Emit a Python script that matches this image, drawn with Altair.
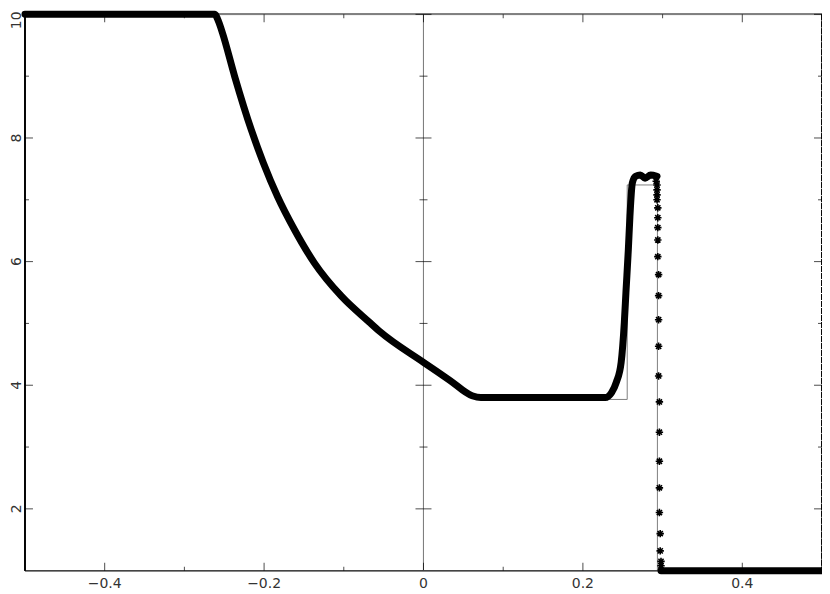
import altair as alt
import pandas as pd

# ---------------- data ----------------
# numerical solution (dense part, left of the shock)
num_x = [-0.500, -0.262, -0.257, -0.252, -0.237, -0.216, -0.201, -0.183, -0.162,
         -0.137, -0.103, -0.068, -0.055, 0.000, 0.033, 0.061, 0.072, 0.150,
         0.228, 0.236, 0.242, 0.248, 0.252, 0.254, 0.257, 0.259, 0.262, 0.266,
         0.272, 0.278, 0.285, 0.293]
num_y = [10.00, 10.00, 9.88, 9.69, 9.00, 8.13, 7.60, 7.05, 6.52,
         5.98, 5.44, 5.02, 4.87, 4.37, 4.08, 3.83, 3.80, 3.80,
         3.80, 3.88, 4.05, 4.37, 5.02, 5.50, 6.19, 6.73, 7.27, 7.38,
         7.40, 7.35, 7.40, 7.38]
# numerical solution, right state
numr_x = [0.298, 0.500]
numr_y = [1.00, 1.00]
# numerical points inside the shock (sparse asterisks)
shock_x = [0.292, 0.293, 0.293, 0.293, 0.293, 0.294, 0.294, 0.294, 0.294, 0.294,
           0.295, 0.295, 0.295, 0.295, 0.295, 0.296, 0.296, 0.296, 0.296, 0.296,
           0.297, 0.297, 0.298, 0.298]
shock_y = [7.30, 7.24, 7.16, 7.08, 7.00, 6.87, 6.71, 6.55, 6.35, 6.08,
           5.79, 5.45, 5.06, 4.63, 4.15, 3.73, 3.24, 2.77, 2.34, 1.94,
           1.60, 1.32, 1.15, 1.08]
# exact solution (thin grey line)
ex_x = [-0.500, -0.262, -0.252, -0.237, -0.216, -0.183, -0.137, -0.068, 0.000,
        0.061, 0.066, 0.2556, 0.2556, 0.2935, 0.2935, 0.500]
ex_y = [10.00, 10.00, 9.69, 9.00, 8.13, 7.05, 5.98, 5.02, 4.37,
        3.82, 3.77, 3.77, 7.24, 7.24, 1.00, 1.00]

x_domain = [-0.5, 0.5]
y_domain = [1, 10]
x_labels = [-0.4, -0.2, 0, 0.2, 0.4]
x_minor = [-0.3, -0.1, 0.1, 0.3]
y_labels = [2, 4, 6, 8]
y_top_label = [10]
y_minor = [3, 5, 7, 9]

W, H = 798, 557
FONT = "DejaVu Sans"
LABEL_COLOR = "#333333"
ASTERISK = "M-1,0L1,0M0,-1L0,1M-0.7,-0.7L0.7,0.7M-0.7,0.7L0.7,-0.7"

num = pd.DataFrame({"x": num_x, "y": num_y, "i": range(len(num_x))})
numr = pd.DataFrame({"x": numr_x, "y": numr_y, "i": range(len(numr_x))})
shock = pd.DataFrame({"x": shock_x, "y": shock_y})
exact = pd.DataFrame({"x": ex_x, "y": ex_y, "i": range(len(ex_x))})
xmaj = pd.DataFrame({"v": x_labels})
xmin = pd.DataFrame({"v": x_minor})
ymaj = pd.DataFrame({"v": y_labels + y_top_label})
ylab = pd.DataFrame({"v": y_labels})
ylab_top = pd.DataFrame({"v": y_top_label})
ymin = pd.DataFrame({"v": y_minor})

xs = alt.Scale(domain=x_domain, nice=False, zero=False)
ys = alt.Scale(domain=y_domain, nice=False, zero=False)


def X(f):
    return alt.X(f, scale=xs, axis=None)


def Y(f):
    return alt.Y(f, scale=ys, axis=None)


exact_line = alt.Chart(exact).mark_line(color="#808080", strokeWidth=1).encode(
    x=X("x:Q"), y=Y("y:Q"), order="i:Q")

num_line = alt.Chart(num).mark_line(color="black", strokeWidth=7, strokeCap="round",
                                    strokeJoin="round", interpolate="monotone").encode(
    x=X("x:Q"), y=Y("y:Q"), order="i:Q")
numr_line = alt.Chart(numr).mark_line(color="black", strokeWidth=7, strokeCap="round").encode(
    x=X("x:Q"), y=Y("y:Q"), order="i:Q")
shock_pts = alt.Chart(shock).mark_point(shape=ASTERISK, filled=False, color="black",
                                        strokeWidth=1.6, size=55, opacity=1).encode(
    x=X("x:Q"), y=Y("y:Q"))

# frame pieces
top_rule = alt.Chart(xmaj).mark_rule(color="#808080", strokeWidth=1.5).encode(
    y=alt.datum(y_domain[1], scale=ys, axis=None))
bottom_rule = alt.Chart(xmaj).mark_rule(color="#444444", strokeWidth=1).encode(
    y=alt.datum(y_domain[0], scale=ys, axis=None))
left_rule = alt.Chart(xmaj).mark_rule(color="black", strokeWidth=1).encode(
    x=alt.datum(x_domain[0], scale=xs, axis=None))
right_rule = alt.Chart(xmaj).mark_rule(color="black", strokeWidth=1, strokeDash=[6, 1]).encode(
    x=alt.datum(x_domain[1], scale=xs, axis=None))
zero_rule = alt.Chart(xmaj).mark_rule(color="#808080", strokeWidth=1).encode(
    x=alt.datum(0, scale=xs, axis=None))


def xticks(df, ypos, length, off):
    return alt.Chart(df).mark_tick(orient="vertical", size=length, thickness=1,
                                   color="black", yOffset=off).encode(
        x=X("v:Q"), y=alt.datum(ypos, scale=ys, axis=None))


def yticks(df, xpos, length, off):
    return alt.Chart(df).mark_tick(orient="horizontal", size=length, thickness=1,
                                   color="black", xOffset=off).encode(
        y=Y("v:Q"), x=alt.datum(xpos, scale=xs, axis=None))


ticks = [
    xticks(xmaj, y_domain[0], 8, -4), xticks(xmin, y_domain[0], 4, -2),
    xticks(xmaj, y_domain[1], 8, 4), xticks(xmin, y_domain[1], 4, 2),
    yticks(ymaj, x_domain[0], 8, 4), yticks(ymin, x_domain[0], 4, 2),
    yticks(ymaj, x_domain[1], 8, -4), yticks(ymin, x_domain[1], 4, -2),
    yticks(ymaj, 0, 16, 0), yticks(ymin, 0, 8, 0),
]

# tick labels as text marks
x_text = alt.Chart(xmaj).mark_text(font=FONT, fontSize=14, color=LABEL_COLOR,
                                   baseline="top", align="center", dy=6).encode(
    x=X("v:Q"), y=alt.datum(y_domain[0], scale=ys, axis=None),
    text=alt.Text("v:Q", format=".1~f"))
y_text = alt.Chart(ylab).mark_text(font=FONT, fontSize=14, color=LABEL_COLOR,
                                   angle=270, baseline="alphabetic", align="center",
                                   dy=-4).encode(
    y=Y("v:Q"), x=alt.datum(x_domain[0], scale=xs, axis=None),
    text=alt.Text("v:Q", format="d"))
y_text_top = alt.Chart(ylab_top).mark_text(font=FONT, fontSize=14, color=LABEL_COLOR,
                                           angle=270, baseline="alphabetic", align="center",
                                           dy=-4, dx=-6).encode(
    y=Y("v:Q"), x=alt.datum(x_domain[0], scale=xs, axis=None),
    text=alt.Text("v:Q", format="d"))

chart = alt.layer(exact_line, top_rule, bottom_rule, left_rule, right_rule, zero_rule,
                  *ticks, num_line, numr_line, shock_pts,
                  x_text, y_text, y_text_top).properties(
    width=W, height=H,
    autosize=alt.AutoSizeParams(type="none"),
    padding={"left": 17, "top": 6, "right": 0, "bottom": 23},
).configure_view(stroke=None).configure(background="white")

chart.save("out.html", embed_options={"renderer": "svg", "actions": False})
